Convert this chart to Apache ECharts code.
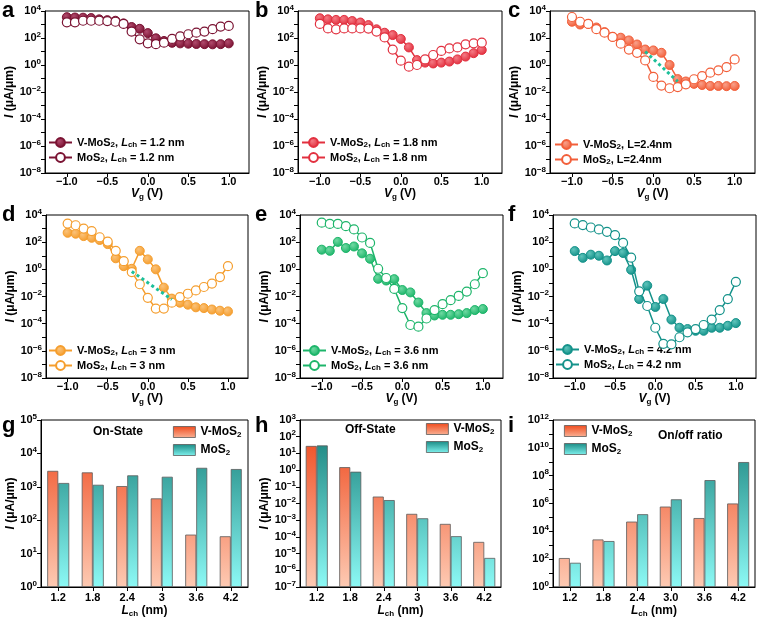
<!DOCTYPE html>
<html><head><meta charset="utf-8">
<script src="https://cdn.jsdelivr.net/npm/echarts@6/dist/echarts.min.js"></script>
<style>html,body{margin:0;padding:0;background:#fff}#c{width:760px;height:617px}</style>
</head><body><div id="c"></div><script>
// ---------- data ----------
const vg = [-1.0, -0.9, -0.8, -0.7, -0.6, -0.5, -0.4, -0.3, -0.2, -0.1, 0.0, 0.1, 0.2, 0.3, 0.4, 0.5, 0.6, 0.7, 0.8, 0.9, 1.0];
const xTicks = [-1.0, -0.5, 0.0, 0.5, 1.0];
const yLineTicks = [1e-8, 1e-7, 1e-6, 1e-5, 1e-4, 1e-3, 1e-2, 1e-1, 1, 10, 100, 1e3, 1e4];
const yLineLabels = [1e-8, 1e-6, 1e-4, 1e-2, 1, 100, 1e4];
const yOnTicks = [1, 10, 100, 1e3, 1e4, 1e5];
const yOffTicks = [1e-7, 1e-6, 1e-5, 1e-4, 1e-3, 1e-2, 1e-1, 1, 10, 100, 1e3];
const yRatioTicks = [1, 10, 100, 1e3, 1e4, 1e5, 1e6, 1e7, 1e8, 1e9, 1e10, 1e11, 1e12];
const yRatioLabels = [1, 100, 1e4, 1e6, 1e8, 1e10, 1e12];

const aV = [3500, 3300, 3200, 3000, 2400, 2100, 1900, 1200, 650, 480, 230, 95, 60, 44, 40, 38, 36, 35, 34, 35, 40];
const aM = [1450, 1450, 1900, 1900, 1900, 1800, 1600, 1100, 300, 80, 40, 35, 45, 85, 130, 190, 250, 300, 450, 700, 780];
const bV = [2900, 2400, 2200, 2200, 1800, 1400, 900, 440, 245, 165, 85, 20, 2.3, 1.5, 1.3, 1.5, 1.8, 2.6, 4.2, 7.5, 13];
const bM = [1100, 510, 440, 510, 510, 510, 500, 300, 110, 14, 2.1, 0.75, 1.0, 2.6, 5.5, 11, 17, 20, 34, 40, 45];
const cV = [1600, 1000, 1100, 600, 270, 120, 105, 66, 33, 14, 12, 8, 1, 0.09, 0.06, 0.04, 0.033, 0.028, 0.028, 0.027, 0.028];
const cM = [3600, 1600, 1100, 450, 250, 120, 38, 14, 8, 2.2, 0.13, 0.03, 0.019, 0.023, 0.037, 0.088, 0.15, 0.27, 0.4, 0.7, 2.6];
const dV = [490, 420, 280, 210, 145, 72, 6.5, 1.7, 1.1, 23, 5.4, 1, 0.045, 0.007, 0.0035, 0.0025, 0.0016, 0.0014, 0.0011, 0.0009, 0.0008];
const dM = [2350, 1760, 1000, 660, 230, 110, 23, 4, 0.63, 0.08, 0.008, 0.0013, 0.0013, 0.0035, 0.009, 0.016, 0.028, 0.05, 0.09, 0.27, 1.7];
const eV = [28, 23, 105, 37, 48, 15, 6, 0.2, 0.15, 0.19, 0.03, 0.02, 0.0036, 0.0006, 0.0004, 0.00045, 0.00045, 0.0005, 0.0006, 0.001, 0.0012];
const eM = [2700, 2200, 2200, 1500, 860, 220, 88, 1.1, 0.23, 0.036, 0.0014, 0.00008, 0.00006, 0.00024, 0.001, 0.0027, 0.0054, 0.011, 0.023, 0.08, 0.52];
const fV = [22, 7, 12, 10, 4.5, 22, 16, 0.93, 0.0065, 0.063, 0.0017, 0.0065, 0.0002, 0.00005, 0.00004, 0.00003, 0.00003, 0.00005, 0.00005, 0.00007, 0.00011];
const fM = [2400, 1800, 1200, 860, 580, 330, 88, 7.2, 0.024, 0.002, 0.00005, 0.0000033, 0.000003, 0.00001, 0.000023, 0.00004, 0.00008, 0.0002, 0.001, 0.0065, 0.12];

const cDotX = [-0.1, 0.3];
const cDotY = [10, 0.06];
const dDotX = [-0.2, 0.3];
const dDotY = [0.7, 0.006];

const lchGH = ['1.2', '1.8', '2.4', '3', '3.6', '4.2'];
const lchI = ['1.2', '1.8', '2.4', '3.0', '3.6', '4.2'];
const onV = [3000, 2700, 1050, 450, 37, 33];
const onM = [1300, 1150, 2200, 2000, 3700, 3400];
const offV = [28, 1.5, 0.026, 0.0024, 0.0006, 0.00005];
const offM = [30, 0.8, 0.016, 0.0013, 0.00011, 0.0000055];
const ratioV = [120, 2600, 50000, 600000, 90000, 1000000];
const ratioM = [55, 2000, 170000, 2000000, 48000000, 950000000];

// ---------- styling helpers ----------
const FONT = '"Liberation Sans", Arial, Helvetica, sans-serif';
const K = '#000';
const labelRich = {
  b: {fontSize: 11, fontWeight: 'bold', fontFamily: FONT, color: K},
  s: {fontSize: 8, fontWeight: 'bold', fontFamily: FONT, color: K, padding: [0, 0, 7, 0]}
};
const nameRich = {
  i: {fontSize: 12, fontStyle: 'italic', fontWeight: 'bold', fontFamily: FONT, color: K},
  n: {fontSize: 12, fontWeight: 'bold', fontFamily: FONT, color: K},
  sub: {fontSize: 8, fontWeight: 'bold', fontFamily: FONT, color: K, padding: [6, 0, 0, 0]}
};
const legRich = {
  n: {fontSize: 11, fontWeight: 'bold', fontFamily: FONT, color: K},
  i: {fontSize: 11, fontStyle: 'italic', fontWeight: 'bold', fontFamily: FONT, color: K},
  s: {fontSize: 8, fontWeight: 'bold', fontFamily: FONT, color: K, padding: [5, 0, 0, 0]}
};
const barLegRich = {
  n: {fontSize: 12, fontWeight: 'bold', fontFamily: FONT, color: K},
  s: {fontSize: 8, fontWeight: 'bold', fontFamily: FONT, color: K, padding: [6, 0, 0, 0]}
};

function fmtX(v) {
  if (Math.abs(v * 2 - Math.round(v * 2)) > 1e-6) return '';
  return (v < -1e-9 ? '\u2212' : '') + Math.abs(v).toFixed(1);
}
function expOf(v) { return Math.round(Math.log(v) / Math.LN10); }
function fmtLog(v) {
  const e = expOf(v);
  return '{b|10}{s|' + (e < 0 ? '\u2212' + (-e) : e) + '}';
}

const grids = [], xAxes = [], yAxes = [], series = [], legends = [], graphics = [];
const legendText = {};

function gridOf(p) {
  return {left: p.left, top: p.top, width: p.w, height: p.h, show: true, borderColor: K, borderWidth: 1,
    backgroundColor: 'transparent', containLabel: false, outerBoundsMode: 'none'};
}
function logAxis(gi, p, ticks, labels, nameGap, showName) {
  return {gridIndex: gi, type: 'log', logBase: 10, min: p.ymin, max: p.ymax, startValue: p.ymin,
    name: showName ? '{i|I}{n| (μA/μm)}' : '', nameLocation: 'middle', nameGap: nameGap, nameTextStyle: {rich: nameRich},
    axisLine: {show: true, onZero: false, lineStyle: {color: K, width: 1}},
    axisTick: {show: true, length: 4, customValues: ticks, lineStyle: {color: K}},
    axisLabel: {customValues: labels, formatter: fmtLog, margin: 4, rich: labelRich, color: K},
    splitLine: {show: false}};
}

function addLinePanel(p) {
  const gi = grids.length;
  grids.push(gridOf(p));
  xAxes.push({gridIndex: gi, type: 'value', min: -1.27, max: 1.25,
    name: '{i|V}{sub|g}{n| (V)}', nameLocation: 'middle', nameGap: 13, nameTextStyle: {rich: nameRich},
    axisLine: {show: true, onZero: false, lineStyle: {color: K, width: 1}},
    axisTick: {show: true, length: 4, customValues: xTicks, lineStyle: {color: K}},
    axisLabel: {customValues: xTicks, formatter: fmtX, margin: 3, color: K, fontSize: 11, fontWeight: 'bold', fontFamily: FONT},
    splitLine: {show: false}});
  yAxes.push(logAxis(gi, {ymin: 1e-8, ymax: 1e4}, yLineTicks, yLineLabels, 24, true));
  const fillGrad = new echarts.graphic.RadialGradient(0.38, 0.35, 0.65,
    [{offset: 0, color: p.light}, {offset: 1, color: p.c}]);
  series.push({type: 'line', name: p.nV, xAxisIndex: gi, yAxisIndex: gi,
    data: vg.map((x, i) => [x, p.V[i]]), symbol: 'circle', symbolSize: 9,
    lineStyle: {color: p.c, width: 1.5}, itemStyle: {color: fillGrad, borderColor: p.c, borderWidth: 1}, z: 3});
  series.push({type: 'line', name: p.nM, xAxisIndex: gi, yAxisIndex: gi,
    data: vg.map((x, i) => [x, p.M[i]]), symbol: 'circle', symbolSize: 9,
    lineStyle: {color: p.c, width: 1.5}, itemStyle: {color: '#fff', borderColor: p.c, borderWidth: 1.2}, z: 4});
  if (p.dotX) {
    series.push({type: 'line', xAxisIndex: gi, yAxisIndex: gi,
      data: p.dotX.map((x, i) => [x, p.dotY[i]]), symbol: 'none',
      lineStyle: {color: '#1dbf9a', width: 3, type: 'dotted'}, silent: true, z: 5});
  }
  legendText[p.nV] = p.lV;
  legendText[p.nM] = p.lM;
  legends.push({left: p.legL, top: p.legT, orient: 'vertical', itemGap: 3, itemWidth: 23, itemHeight: 11,
    padding: 0, selectedMode: false, data: [p.nV, p.nM],
    formatter: n => legendText[n], textStyle: {rich: legRich, fontSize: 11, fontWeight: 'bold', color: K}});
}

function addBarPanel(p) {
  const gi = grids.length;
  grids.push(gridOf(p));
  xAxes.push({gridIndex: gi, type: 'category', data: p.cats,
    name: '{i|L}{sub|ch}{n| (nm)}', nameLocation: 'middle', nameGap: 17, nameTextStyle: {rich: nameRich},
    axisLine: {show: true, onZero: false, lineStyle: {color: K, width: 1}},
    axisTick: {show: true, length: 4, alignWithLabel: true, lineStyle: {color: K}},
    axisLabel: {margin: 5, color: K, fontSize: 11, fontWeight: 'bold', fontFamily: FONT},
    splitLine: {show: false}});
  yAxes.push(logAxis(gi, p, p.ticks, p.labels, p.nameGap, p.yName));
  const gV = new echarts.graphic.LinearGradient(0, p.top, 0, p.top + p.h,
    [{offset: 0, color: '#ee4215'}, {offset: 1, color: '#fdcab3'}], true);
  const gM = new echarts.graphic.LinearGradient(0, p.top, 0, p.top + p.h,
    [{offset: 0, color: '#127a74'}, {offset: 1, color: '#8cf9f5'}], true);
  const lgV = new echarts.graphic.LinearGradient(0, 0, 0, 1,
    [{offset: 0, color: '#f04a1c'}, {offset: 1, color: '#f9b296'}]);
  const lgM = new echarts.graphic.LinearGradient(0, 0, 0, 1,
    [{offset: 0, color: '#1a8a84'}, {offset: 1, color: '#7ff2ee'}]);
  series.push({type: 'bar', name: p.nV, xAxisIndex: gi, yAxisIndex: gi, data: p.V, barWidth: 11, barGap: '0%',
    itemStyle: {color: gV, borderColor: '#5a5a5a', borderWidth: 0.8}});
  series.push({type: 'bar', name: p.nM, xAxisIndex: gi, yAxisIndex: gi, data: p.M, barWidth: 11, barGap: '0%',
    itemStyle: {color: gM, borderColor: '#5a5a5a', borderWidth: 0.8}});
  legendText[p.nV] = '{n|V-MoS}{s|2}';
  legendText[p.nM] = '{n|MoS}{s|2}';
  legends.push({left: p.legL, top: p.legT, orient: 'vertical', itemGap: 5, itemWidth: 22, itemHeight: 11,
    padding: 0, selectedMode: false, icon: 'rect',
    data: [{name: p.nV, itemStyle: {color: lgV, borderColor: '#5a5a5a', borderWidth: 0.8}},
           {name: p.nM, itemStyle: {color: lgM, borderColor: '#5a5a5a', borderWidth: 0.8}}],
    formatter: n => legendText[n], textStyle: {rich: barLegRich, fontSize: 12, fontWeight: 'bold', color: K}});
  graphics.push({type: 'text', x: p.noteX, y: p.noteY,
    style: {text: p.note, font: 'bold 12px ' + FONT, fill: K, verticalAlign: 'middle'}});
}

const lenStr = (pre, tail) => '{n|' + pre + 'MoS}{s|2}{n|, }{i|L}{s|ch}{n| = ' + tail + '}';

addLinePanel({left: 45, top: 11, w: 204, h: 162, c: '#7a1232', light: '#b04a6c', V: aV, M: aM,
  nV: 'aV', nM: 'aM', lV: lenStr('V-', '1.2 nm'), lM: lenStr('', '1.2 nm'), legL: 48, legT: 137});
addLinePanel({left: 298, top: 11, w: 204, h: 162, c: '#e2303f', light: '#f47a84', V: bV, M: bM,
  nV: 'bV', nM: 'bM', lV: lenStr('V-', '1.8 nm'), lM: lenStr('', '1.8 nm'), legL: 301, legT: 137});
addLinePanel({left: 550, top: 11, w: 205, h: 162, c: '#f25f3a', light: '#f8a08a', V: cV, M: cM,
  nV: 'cV', nM: 'cM', lV: '{n|V-MoS}{s|2}{n|, L=2.4nm}', lM: '{n|MoS}{s|2}{n|, L=2.4nm}', legL: 554, legT: 139,
  dotX: cDotX, dotY: cDotY});
addLinePanel({left: 46, top: 215, w: 202, h: 163, c: '#f59e2e', light: '#fac27a', V: dV, M: dM,
  nV: 'dV', nM: 'dM', lV: lenStr('V-', '3 nm'), lM: lenStr('', '3 nm'), legL: 48, legT: 345,
  dotX: dDotX, dotY: dDotY});
addLinePanel({left: 300, top: 215, w: 203, h: 163, c: '#1db56a', light: '#6fd9a2', V: eV, M: eM,
  nV: 'eV', nM: 'eM', lV: lenStr('V-', '3.6 nm'), lM: lenStr('', '3.6 nm'), legL: 302, legT: 345});
addLinePanel({left: 553, top: 215, w: 203, h: 163, c: '#14928a', light: '#5fc4bb', V: fV, M: fM,
  nV: 'fV', nM: 'fM', lV: lenStr('V-', '4.2 nm'), lM: lenStr('', '4.2 nm'), legL: 555, legT: 344});

addBarPanel({left: 41, top: 420, w: 207, h: 167, cats: lchGH, V: onV, M: onM, ymin: 1, ymax: 1e5,
  ticks: yOnTicks, labels: yOnTicks,
  nV: 'gV', nM: 'gM', legL: 173, legT: 426, note: 'On-State', noteX: 93, noteY: 432, yName: true, nameGap: 23});
addBarPanel({left: 300, top: 420, w: 201, h: 167, cats: lchGH, V: offV, M: offM, ymin: 1e-7, ymax: 1e3,
  ticks: yOffTicks, labels: yOffTicks,
  nV: 'hV', nM: 'hM', legL: 426, legT: 423, note: 'Off-State', noteX: 345, noteY: 430, yName: true, nameGap: 27});
addBarPanel({left: 553, top: 420, w: 202, h: 167, cats: lchI, V: ratioV, M: ratioM, ymin: 1, ymax: 1e12,
  ticks: yRatioTicks, labels: yRatioLabels,
  nV: 'iV', nM: 'iM', legL: 564, legT: 425, note: 'On/off ratio', noteX: 658, noteY: 436, yName: false, nameGap: 29});

const letters = [['a', 2, 18], ['b', 255, 18], ['c', 508, 18], ['d', 2, 222], ['e', 255, 222], ['f', 508, 222],
  ['g', 2, 433], ['h', 255, 433], ['i', 508, 433]];
letters.forEach(l => graphics.push({type: 'text', x: l[1], y: l[2] + 4,
  style: {text: l[0], font: 'bold 22px ' + FONT, fill: K, verticalAlign: 'bottom'}}));

const chart = echarts.init(document.getElementById('c'), null, {renderer: 'canvas'});
chart.setOption({
  animation: false,
  backgroundColor: '#fff',
  textStyle: {fontFamily: FONT},
  grid: grids, xAxis: xAxes, yAxis: yAxes, series: series, legend: legends,
  graphic: graphics
});
</script></body></html>
